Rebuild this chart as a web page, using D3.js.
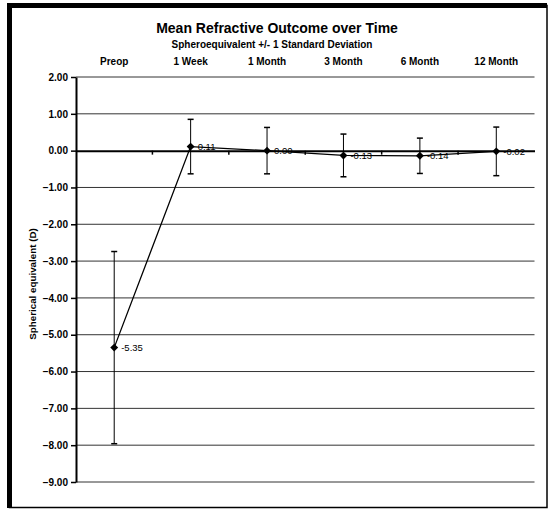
<!DOCTYPE html>
<html><head><meta charset="utf-8">
<script src="https://cdn.jsdelivr.net/npm/d3@7/dist/d3.min.js"></script>
<style>body{margin:0;background:#fff;}svg{display:block;font-family:Arial,"Liberation Sans",sans-serif;} svg text{font-family:Arial,"Liberation Sans",sans-serif;}</style>
</head><body><svg id="c" width="550" height="511"></svg>
<script>
const categories = ["Preop","1 Week","1 Month","3 Month","6 Month","12 Month"];
const means = [-5.35, 0.11, 0.00, -0.13, -0.14, -0.02];
const sds = [2.61, 0.74, 0.63, 0.58, 0.48, 0.66];
const labels = ["-5.35","0.11","0.00","-0.13","-0.14","-0.02"];
const yTicks = [2,1,0,-1,-2,-3,-4,-5,-6,-7,-8,-9];

const svg = d3.select("#c");
const x = d3.scaleBand().domain(categories).range([76, 534.5]);
const y = d3.scaleLinear().domain([-9, 2]).range([482, 77]);

// frame
svg.append("rect").attr("x",9.5).attr("y",5.5).attr("width",537.5).attr("height",502)
  .attr("fill","none").attr("stroke","#000").attr("stroke-width",1.5);
svg.append("line").attr("x1",9.5).attr("x2",9.5).attr("y1",3).attr("y2",508).attr("stroke","#000").attr("stroke-width",5);
svg.append("line").attr("x1",7).attr("x2",547).attr("y1",5.5).attr("y2",5.5).attr("stroke","#000").attr("stroke-width",5);

// gridlines
svg.append("g").selectAll("line").data(yTicks.filter(d=>d!==0)).join("line")
  .attr("x1",76).attr("x2",534.5).attr("y1",d=>y(d)).attr("y2",d=>y(d))
  .attr("stroke","#333").attr("stroke-width",1);

// y axis
const yAxis = svg.append("g").attr("transform","translate(76,0)")
  .call(d3.axisLeft(y).tickValues(yTicks).tickFormat(d3.format(".2f")).tickSize(5).tickSizeOuter(0));
yAxis.attr("font-family",null);
yAxis.select(".domain").attr("stroke","#000").attr("stroke-width",2);
yAxis.selectAll(".tick line").attr("stroke","#000").attr("stroke-width",1.5);
yAxis.selectAll(".tick text").attr("font-size",10).attr("font-weight","bold").attr("fill","#000").attr("x",-8);

// x axis at zero
const xAxis = svg.append("g").attr("transform",`translate(0,${y(0)})`)
  .call(d3.axisBottom(x).tickSize(0).tickFormat(""));
xAxis.select(".domain").attr("stroke","#000").attr("stroke-width",2);
svg.append("g").selectAll("line").data(categories.slice(1)).join("line")
  .attr("x1",d=>x(d)).attr("x2",d=>x(d)).attr("y1",y(0)).attr("y2",y(0)+4)
  .attr("stroke","#000").attr("stroke-width",1.5);

// category labels at top
svg.append("g").selectAll("text").data(categories).join("text")
  .attr("x",d=>x(d)+x.bandwidth()/2).attr("y",65).attr("text-anchor","middle")
  .attr("font-size",10).attr("font-weight","bold").text(d=>d);

// titles
svg.append("text").attr("x",277).attr("y",32.5).attr("text-anchor","middle")
  .attr("font-size",14).attr("font-weight","bold").text("Mean Refractive Outcome over Time");
svg.append("text").attr("x",272).attr("y",47.5).attr("text-anchor","middle")
  .attr("font-size",10).attr("font-weight","bold").text("Spheroequivalent +/- 1 Standard Deviation");

// y label
svg.append("text").attr("transform","translate(36,284) rotate(-90)").attr("text-anchor","middle")
  .attr("font-size",9.8).attr("font-weight","bold").text("Spherical equivalent (D)");

const cx = d => x(d)+x.bandwidth()/2;
const pts = categories.map((c,i)=>({c, m:means[i], s:sds[i], l:labels[i]}));

// error bars
const eb = svg.append("g").selectAll("g").data(pts).join("g");
eb.append("line").attr("x1",d=>cx(d.c)).attr("x2",d=>cx(d.c))
  .attr("y1",d=>y(d.m+d.s)).attr("y2",d=>y(d.m-d.s)).attr("stroke","#000").attr("stroke-width",1);
eb.append("line").attr("x1",d=>cx(d.c)-3).attr("x2",d=>cx(d.c)+3)
  .attr("y1",d=>y(d.m+d.s)).attr("y2",d=>y(d.m+d.s)).attr("stroke","#000").attr("stroke-width",1.5);
eb.append("line").attr("x1",d=>cx(d.c)-3).attr("x2",d=>cx(d.c)+3)
  .attr("y1",d=>y(d.m-d.s)).attr("y2",d=>y(d.m-d.s)).attr("stroke","#000").attr("stroke-width",1.5);

// line
svg.append("path").datum(pts).attr("fill","none").attr("stroke","#000").attr("stroke-width",1.3)
  .attr("d", d3.line().x(d=>cx(d.c)).y(d=>y(d.m)));

// markers
svg.append("g").selectAll("path").data(pts).join("path")
  .attr("transform",d=>`translate(${cx(d.c)},${y(d.m)})`)
  .attr("d", d3.symbol(d3.symbolDiamond2 || d3.symbolDiamond, 40)).attr("fill","#000");

// data labels
svg.append("g").selectAll("text").data(pts).join("text")
  .attr("x",d=>cx(d.c)+7).attr("y",d=>y(d.m)+3.5)
  .attr("font-size",9.5).attr("fill","#000").text(d=>d.l);
</script></body></html>
